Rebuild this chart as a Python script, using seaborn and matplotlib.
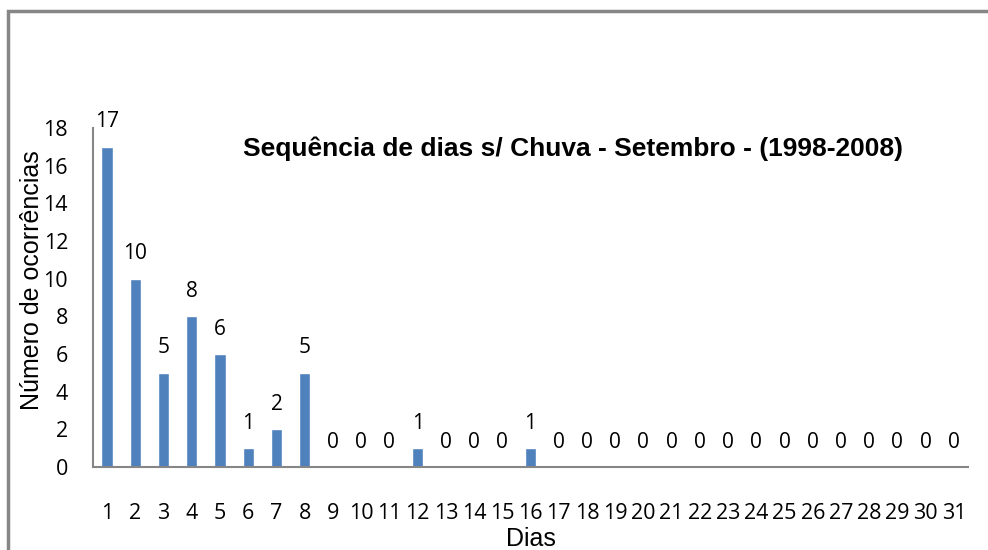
import matplotlib
matplotlib.use('Agg')
import matplotlib.pyplot as plt
import matplotlib.patches as patches
import pandas as pd
import seaborn as sns

# Data
dias = [str(d) for d in range(1, 32)]
ocorrencias = [17, 10, 5, 8, 6, 1, 2, 5, 0, 0, 0, 1, 0, 0, 0, 1,
               0, 0, 0, 0, 0, 0, 0, 0, 0, 0, 0, 0, 0, 0, 0]
titulo = 'Sequência de dias s/ Chuva - Setembro - (1998-2008)'

df = pd.DataFrame({'Dias': dias, 'Ocorrencias': ocorrencias})

sns.set_style('white')
plt.rcParams['font.family'] = ['Open Sans', 'DejaVu Sans']
arial = ['Liberation Sans', 'DejaVu Sans']

fig = plt.figure(figsize=(9.88, 5.5), dpi=100)
ax = fig.add_axes([93 / 988, 1 - 467 / 550, (968 - 93) / 988, (467 - 128) / 550])

sns.barplot(data=df, x='Dias', y='Ocorrencias', color='#4F81BD',
            saturation=1, width=0.4, ax=ax)

# value labels
for i, v in enumerate(ocorrencias):
    ax.annotate(str(v), (i, v), xytext=(0, 14), textcoords='offset points',
                ha='center', va='baseline', fontsize=15, color='black')

ax.set_ylim(0, 18)
ax.set_xlim(-0.5, len(dias) - 0.5)
ax.set_yticks(range(0, 19, 2))
ax.tick_params(axis='x', length=0, pad=26, labelsize=15.5, labelcolor='black')
ax.tick_params(axis='y', length=0, pad=18, labelsize=15.5, labelcolor='black')

for s in ['top', 'right']:
    ax.spines[s].set_visible(False)
for s in ['left', 'bottom']:
    ax.spines[s].set_color('#868686')
    ax.spines[s].set_linewidth(1.5)

ax.set_xlabel('Dias', fontsize=18, labelpad=2, family=arial, color='black')
ax.set_ylabel('Número de ocorrências', fontsize=18, family=arial, color='black')
ax.yaxis.set_label_coords(-0.056, 0.55)

ax.text(0.549, 0.94, titulo, transform=ax.transAxes, ha='center', va='center',
        fontsize=19, fontweight='bold', family=arial, color='black')

# chart frame (Excel style, cut off on the right and bottom)
frame = patches.Rectangle((8 / 988, -0.1), 1.2, 1 - 11 / 550 + 0.1,
                          transform=fig.transFigure, fill=False,
                          edgecolor='#868686', linewidth=2.5, clip_on=False)
fig.patches.append(frame)

fig.savefig('out.png', dpi=100)
